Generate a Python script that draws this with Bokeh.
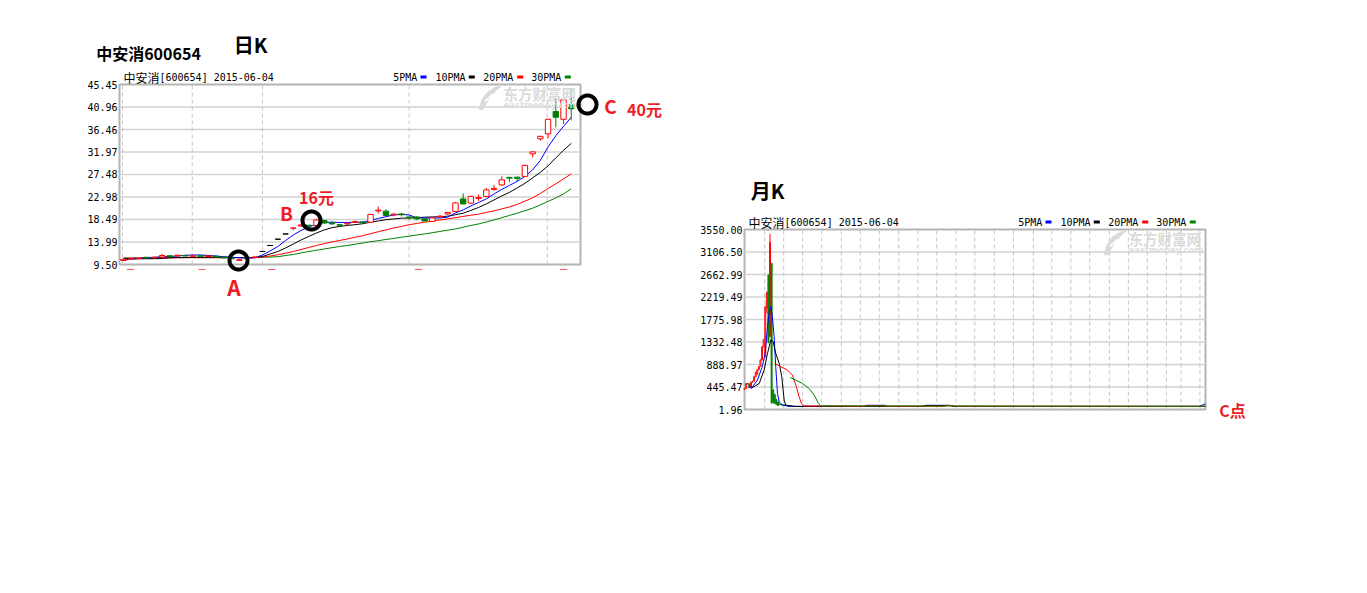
import numpy as np
from bokeh.plotting import figure
from bokeh.models import (Range1d, FixedTicker, Label, PolyAnnotation, BoxAnnotation,
                          ColumnDataSource, LinearAxis)
from bokeh.layouts import row
from bokeh.embed import file_html
from bokeh.resources import INLINE

# ---------------- daily K data (中安消 600654) ----------------
d_open = [10.30, 10.55, 10.65, 10.95, 10.85, 11.00, 11.25, 11.20, 11.30, 11.15,
          11.25, 11.10, 11.15, 11.00, 10.80, 10.35, 10.95, 10.90, 12.10, 13.30,
          14.55, 15.60, 16.75, 17.20, 17.35, 17.30, 18.30, 17.80, 17.45, 17.60,
          17.90, 18.00, 17.95, 20.20, 20.15, 19.40, 19.60, 19.00, 19.00, 18.60,
          18.10, 19.00, 19.60, 20.10, 22.60, 21.75, 22.70, 23.10, 24.50, 25.40,
          26.90, 26.95, 27.10, 31.60, 34.60, 35.60, 40.05, 38.50, 41.40]
d_high = [10.60, 10.70, 10.80, 11.00, 11.00, 11.60, 11.35, 11.45, 11.40, 11.30,
          11.35, 11.35, 11.25, 11.05, 10.85, 10.50, 11.00, 11.05, 12.10, 13.30,
          14.55, 15.60, 16.80, 17.50, 17.35, 18.60, 18.45, 18.10, 17.60, 18.00,
          18.30, 18.10, 19.60, 21.10, 20.50, 19.80, 19.80, 19.10, 19.10, 18.70,
          18.90, 19.40, 20.00, 22.00, 23.70, 23.20, 23.50, 24.80, 25.40, 27.10,
          27.00, 27.00, 29.40, 32.00, 35.10, 38.60, 42.60, 42.90, 44.45]
d_low = [10.25, 10.50, 10.60, 10.80, 10.80, 10.70, 11.05, 11.15, 11.15, 11.05,
         11.10, 11.05, 10.95, 10.75, 10.60, 10.20, 10.80, 10.85, 12.10, 13.30,
         14.55, 15.60, 16.35, 17.00, 16.90, 17.20, 17.60, 17.50, 17.10, 17.40,
         17.80, 17.70, 17.90, 19.70, 19.20, 19.10, 19.10, 18.50, 18.40, 18.10,
         18.00, 18.80, 19.40, 20.00, 21.50, 21.60, 22.20, 23.00, 24.20, 25.20,
         26.00, 26.10, 27.00, 30.90, 34.20, 34.70, 36.90, 37.60, 38.30]
d_close = [10.55, 10.65, 10.75, 10.85, 10.95, 11.30, 11.10, 11.35, 11.20, 11.25,
           11.15, 11.20, 11.00, 10.80, 10.65, 10.45, 10.85, 11.00, 12.10, 13.30,
           14.55, 15.60, 16.80, 17.40, 17.25, 18.40, 17.80, 17.60, 17.35, 17.75,
           18.05, 17.90, 19.50, 20.35, 19.30, 19.55, 19.45, 18.80, 18.60, 18.20,
           18.80, 19.15, 19.90, 21.80, 21.60, 23.10, 22.90, 24.40, 24.70, 26.40,
           26.75, 26.70, 29.30, 32.00, 35.10, 38.50, 38.90, 42.40, 40.60]
d_ma5 = [10.45, 10.55, 10.70, 10.85, 10.95, 11.05, 11.10, 11.20, 11.35, 11.40,
         11.40, 11.30, 11.20, 11.05, 10.95, 10.85, 10.80, 10.85, 11.40, 12.20,
         13.10, 14.30, 15.40, 16.30, 17.00, 17.55, 17.95, 17.95, 17.90, 17.90,
         17.95, 17.95, 18.30, 18.70, 19.05, 19.40, 19.50, 19.40, 18.80, 18.80,
         18.75, 18.80, 18.95, 19.80, 20.40, 21.20, 21.90, 22.60, 23.60, 24.50,
         25.30, 26.10, 27.10, 28.40, 30.30, 33.00, 35.20, 37.10, 38.90]
d_ma10 = [10.65, 10.65, 10.65, 10.65, 10.65, 10.70, 10.85, 10.90, 10.90, 10.95,
          10.95, 10.95, 10.95, 10.95, 10.90, 10.90, 10.85, 10.85, 11.10, 11.60,
          12.10, 12.80, 13.60, 14.40, 15.10, 15.80, 16.40, 16.85, 17.10, 17.30,
          17.45, 17.65, 17.95, 18.20, 18.45, 18.60, 18.75, 18.80, 18.85, 18.95,
          19.00, 19.05, 19.15, 19.45, 19.75, 20.30, 20.90, 21.60, 22.40, 23.20,
          23.90, 24.80, 25.70, 26.80, 27.90, 29.20, 30.80, 32.30, 33.70]
d_ma20 = [10.75, 10.75, 10.78, 10.80, 10.80, 10.82, 10.83, 10.84, 10.85, 10.85,
          10.85, 10.85, 10.85, 10.85, 10.85, 10.85, 10.85, 10.88, 10.95, 11.20,
          11.45, 11.75, 12.10, 12.50, 12.90, 13.30, 13.65, 14.00, 14.30, 14.60,
          14.95, 15.25, 15.65, 16.05, 16.40, 16.80, 17.10, 17.45, 17.70, 17.95,
          18.20, 18.40, 18.60, 18.85, 19.10, 19.35, 19.55, 19.90, 20.20, 20.60,
          21.00, 21.50, 22.15, 22.80, 23.70, 24.70, 25.60, 26.60, 27.60]
d_ma30 = [10.80, 10.81, 10.82, 10.83, 10.85, 10.86, 10.87, 10.88, 10.90, 10.90,
          10.90, 10.90, 10.90, 10.90, 10.90, 10.90, 10.90, 10.92, 10.95, 11.00,
          11.05, 11.30, 11.50, 11.80, 12.10, 12.35, 12.60, 12.85, 13.10, 13.30,
          13.55, 13.80, 14.05, 14.25, 14.50, 14.70, 14.95, 15.15, 15.40, 15.60,
          15.85, 16.10, 16.35, 16.60, 16.95, 17.30, 17.60, 18.00, 18.40, 18.85,
          19.30, 19.75, 20.25, 20.75, 21.40, 22.10, 22.80, 23.60, 24.60]
d_yticks = [9.50, 13.99, 18.49, 22.98, 27.48, 31.97, 36.46, 40.96, 45.45]
d_ylabels = ["9.50", "13.99", "18.49", "22.98", "27.48", "31.97", "36.46", "40.96", "45.45"]
d_month_grid = [-0.13, 8.9, 18.0, 37.0, 54.9]
d_month_marks = [0.9, 10.2, 19.2, 38.2, 57.0]

# ---------------- monthly K data ----------------
m_open = [400, 420, 515, 505, 445, 540, 560, 650, 700, 785,
          850, 980, 1240, 1040, 2000, 2650, 1440, 2885, 390, 300,
          200, 150, 110, 100, 95, 90, 85, 80, 75, 70]
m_high = [430, 520, 520, 510, 545, 565, 655, 745, 790, 860,
          985, 1245, 1390, 2030, 2330, 2660, 3466, 2885, 395, 310,
          210, 160, 115, 105, 100, 95, 90, 85, 80, 75]
m_low = [395, 415, 495, 440, 440, 535, 555, 640, 690, 780,
         840, 970, 1230, 1035, 1900, 1310, 1437, 118, 120, 110,
         90, 75, 90, 85, 80, 75, 70, 65, 60, 55]
m_close = [420, 515, 505, 445, 540, 560, 650, 740, 785, 850,
           980, 1240, 1380, 2030, 2300, 1320, 3300, 130, 150, 120,
           100, 80, 100, 95, 90, 85, 80, 75, 70, 65]
# moving-average polyline vertices (bar index, value)
m_ma5_x = [2.4, 5.0, 8.1, 11.1, 13.0, 14.4, 15.5, 16.5, 17.5, 18.6, 19.6, 20.7, 21.8, 23.8, 28.9,
           75, 77, 88, 90, 112, 114, 129, 131, 286, 288, 289.8]
m_ma5_y = [435, 449, 581, 844, 1107, 1634, 1930, 2030, 1832, 1437, 843, 316, 152, 87, 63,
           63, 85, 85, 63, 63, 85, 85, 63, 63, 90, 110]
m_ma10_x = [3.9, 9.2, 12.3, 14.4, 16.5, 18.0, 19.6, 21.8, 23.4, 24.9, 25.9, 32,
            112, 114, 130, 132, 289.8]
m_ma10_y = [415, 514, 779, 1107, 1371, 1338, 1107, 909, 646, 186, 87, 63,
            63, 80, 80, 63, 63]
m_ma20_x = [19.0, 22.8, 27.0, 30.1, 32.6, 34.3, 35.8, 37.5, 75, 77, 86, 88, 125, 127, 130, 132, 289.8]
m_ma20_y = [909, 844, 779, 680, 449, 251, 119, 73, 65, 80, 80, 65, 65, 80, 80, 65, 65]
m_ma30_x = [28.7, 32.2, 36.4, 40.6, 43.8, 46.5, 47.9, 289.8]
m_ma30_y = [632, 581, 514, 415, 285, 119, 73, 65]
m_yticks = [1.96, 445.47, 888.97, 1332.48, 1775.98, 2219.49, 2662.99, 3106.50, 3550.00]
m_ylabels = ["1.96", "445.47", "888.97", "1332.48", "1775.98", "2219.49", "2662.99", "3106.50", "3550.00"]
m_year_grid = [12.7, 24.6, 36.5, 48.5, 60.8, 72.8, 84.7, 97.0, 109.0, 120.9, 132.9, 144.8,
               157.1, 169.1, 181.6, 193.2, 205.2, 217.1, 229.4, 241.4, 253.3, 265.3, 274.5, 286.4]

UP = "#ff0000"
DOWN = "#008000"
MA_COLORS = ["#0000ff", "#000000", "#ff0000", "#008000"]
ANN = "#ee1c25"
CJK = "Noto Sans CJK SC"
MONO = "DejaVu Sans Mono"
GRID = "#d2d2d2"
VGRID = "#c4c4c4"
BOX = "#b4b4b4"
WM = "#dadada"


class PageMap:
    """linear map between page pixels and the data units of one chart box"""
    def __init__(self, box_px, box_data):
        self.bl, self.br, self.bt, self.bb = box_px
        self.x0, self.x1, self.y0, self.y1 = box_data

    def x(self, px):
        return self.x0 + (px - self.bl) / (self.br - self.bl) * (self.x1 - self.x0)

    def y(self, py):
        return self.y0 + (self.bb - py) / (self.bb - self.bt) * (self.y1 - self.y0)


def make_chart(origin, size, m):
    ox, oy = origin
    w, h = size
    p = figure(width=w, height=h,
               x_range=Range1d(m.x(ox), m.x(ox + w)), y_range=Range1d(m.y(oy + h), m.y(oy)),
               x_axis_type=None, y_axis_type=None,
               output_backend="svg", toolbar_location=None,
               min_border=0, min_border_left=0, min_border_right=0,
               min_border_top=0, min_border_bottom=0)
    p.outline_line_color = None
    p.background_fill_color = "white"
    p.border_fill_color = "white"
    p.grid.visible = False
    return p


def chart_axes(p, m, yticks, ylabels, vgrid):
    xb, yb = (m.x0, m.x1), (m.y0, m.y1)
    ax = LinearAxis(fixed_location=m.x0, bounds=yb, ticker=FixedTicker(ticks=yticks),
                    major_label_overrides={t: s for t, s in zip(yticks, ylabels)},
                    axis_line_color=None, major_tick_line_color=None, minor_tick_line_color=None,
                    major_tick_out=0, major_tick_in=0, minor_tick_out=0,
                    major_label_standoff=2, major_label_text_font=MONO,
                    major_label_text_font_size="10px", major_label_text_color="black")
    p.add_layout(ax, "left")
    inner = yticks[1:-1]
    p.segment(x0=[xb[0]] * len(inner), x1=[xb[1]] * len(inner), y0=inner, y1=inner,
              line_color=GRID, line_width=1.5)
    p.segment(x0=vgrid, x1=vgrid, y0=[yb[0]] * len(vgrid), y1=[yb[1]] * len(vgrid),
              line_color=VGRID, line_width=1, line_dash="4 3")


def chart_box(p, m):
    p.add_layout(BoxAnnotation(left=m.x0, right=m.x1, bottom=m.y0, top=m.y1,
                               fill_alpha=0, line_color=BOX, line_alpha=1, line_width=2,
                               level="underlay"))


def candles(p, o, h, l, c, width, flat_color):
    x = list(range(len(o)))
    cols = [UP if cc > oo else (DOWN if cc < oo else flat_color) for oo, cc in zip(o, c)]
    fills = ["white" if cc > oo else (DOWN if cc < oo else flat_color) for oo, cc in zip(o, c)]
    src = ColumnDataSource(dict(x=x, o=o, h=h, l=l, c=c,
                                top=[max(a, b) for a, b in zip(o, c)],
                                bot=[min(a, b) for a, b in zip(o, c)],
                                col=cols, fill=fills))
    p.segment(x0="x", y0="h", x1="x", y1="top", color="col", line_width=1, source=src)
    p.segment(x0="x", y0="bot", x1="x", y1="l", color="col", line_width=1, source=src)
    p.vbar(x="x", width=width, top="top", bottom="bot", fill_color="fill",
           line_color="col", line_width=1, source=src)


def text(p, m, px, py, s, size, color="black", font=CJK, bold=False, align="center", baseline="middle"):
    p.add_layout(Label(x=m.x(px), y=m.y(py), text=s, text_font=font,
                       text_font_size=size, text_color=color,
                       text_font_style="bold" if bold else "normal",
                       text_align=align, text_baseline=baseline))


def ring(p, m, cx, cy, r):
    a = np.linspace(0, 2 * np.pi, 72)
    p.add_layout(PolyAnnotation(xs=[m.x(cx + r * np.cos(t)) for t in a],
                                ys=[m.y(cy + r * np.sin(t)) for t in a],
                                fill_alpha=0, line_color="black", line_alpha=1, line_width=4))


def poly(p, m, pts, color):
    p.add_layout(PolyAnnotation(xs=[m.x(a) for a, b in pts], ys=[m.y(b) for a, b in pts],
                                fill_color=color, fill_alpha=1, line_alpha=0))


def header(p, m):
    fl, R, ft = m.bl, m.br, m.bt
    text(p, m, fl + 4, ft - 7.5, "中安消", "12px", align="left")
    text(p, m, fl + 40, ft - 7.5, "[600654] 2015-06-04", "10px", font=MONO, align="left")
    for off, lab, bar, col in [(-187.3, "5PMA", -160, MA_COLORS[0]), (-145, "10PMA", -111.7, MA_COLORS[1]),
                               (-97.3, "20PMA", -63.3, MA_COLORS[2]), (-49.3, "30PMA", -15.7, MA_COLORS[3])]:
        text(p, m, R + off, ft - 7.5, lab, "10px", font=MONO, align="left")
        poly(p, m, [(R + bar, ft - 9), (R + bar + 6, ft - 9), (R + bar + 6, ft - 6), (R + bar, ft - 6)], col)
    # watermark: swoosh logo + name
    poly(p, m, [(R - 102, ft + 25), (R - 99, ft + 15), (R - 93, ft + 7), (R - 85, ft + 2),
                (R - 78, ft + 1), (R - 84, ft + 6), (R - 90, ft + 13), (R - 95, ft + 21),
                (R - 98, ft + 26)], WM)
    poly(p, m, [(R - 96, ft + 16), (R - 88, ft + 9), (R - 87, ft + 10.5), (R - 95, ft + 17.5)], "white")
    text(p, m, R - 77, ft + 9, "东方财富网", "14.5px", color=WM, bold=True, align="left")
    text(p, m, R - 77, ft + 20.5, "eastmoney.com", "8.5px", color="#dedede", font="DejaVu Sans",
         bold=True, align="left")


# ---------------- left: daily chart ----------------
m1 = PageMap((119, 580, 84, 264), (-0.52, 59.2, d_yticks[0], d_yticks[-1]))
p1 = make_chart((0, 0), (680, 310), m1)
chart_box(p1, m1)
chart_axes(p1, m1, d_yticks, d_ylabels, d_month_grid)
xmark = LinearAxis(fixed_location=m1.y0, bounds=(m1.x0, m1.x1), ticker=FixedTicker(ticks=d_month_marks),
                   major_label_overrides={t: "—" for t in d_month_marks},
                   axis_line_color=None, major_tick_line_color=None, minor_tick_line_color=None,
                   major_tick_out=0, major_tick_in=0, minor_tick_out=0,
                   major_label_standoff=0, major_label_text_font="DejaVu Sans",
                   major_label_text_font_size="8px", major_label_text_color="#ff0000")
p1.add_layout(xmark, "below")

xs = list(range(len(d_close)))
for ma, col in zip([d_ma30, d_ma20, d_ma10, d_ma5], MA_COLORS[::-1]):
    p1.line(xs, ma, color=col, line_width=1)
candles(p1, d_open, d_high, d_low, d_close, 0.7, "#000000")
header(p1, m1)

text(p1, m1, 148, 52, "中安消600654", "16px", bold=True)
text(p1, m1, 250, 44, "日K", "20px", bold=True)
ring(p1, m1, 238, 260, 9)
ring(p1, m1, 311, 220, 9)
ring(p1, m1, 587, 104, 9)
text(p1, m1, 233.5, 286, "A", "21px", color=ANN, bold=True)
text(p1, m1, 286, 211.5, "B", "19px", color=ANN, bold=True)
text(p1, m1, 316, 196, "16元", "16px", color=ANN, bold=True)
text(p1, m1, 610, 104.5, "C", "19px", color=ANN, bold=True)
text(p1, m1, 644, 108, "40元", "16px", color=ANN, bold=True)

# ---------------- right: monthly chart ----------------
m2 = PageMap((744, 1205, 229, 409), (-0.05, 289.9, m_yticks[0], m_yticks[-1]))
p2 = make_chart((680, 0), (580, 430), m2)
chart_box(p2, m2)
chart_axes(p2, m2, m_yticks, m_ylabels, m_year_grid)
candles(p2, m_open, m_high, m_low, m_close, 0.6, "#000000")
for (mx, my), col in zip([(m_ma5_x, m_ma5_y), (m_ma10_x, m_ma10_y), (m_ma20_x, m_ma20_y),
                          (m_ma30_x, m_ma30_y)], MA_COLORS):
    p2.line(mx, my, color=col, line_width=1)
header(p2, m2)
text(p2, m2, 767, 190, "月K", "20px", bold=True)
text(p2, m2, 1232, 409, "C点", "16px", color=ANN, bold=True)

layout = row(p1, p2)
open("out.html", "w").write(file_html(layout, INLINE))
